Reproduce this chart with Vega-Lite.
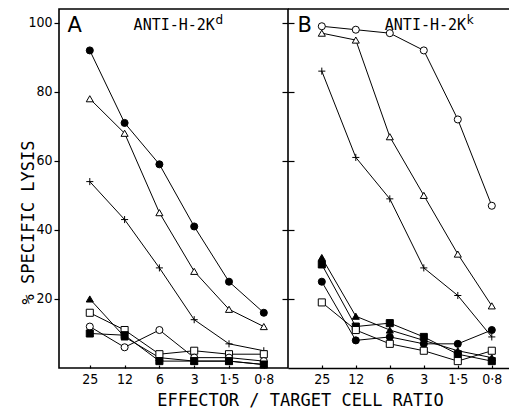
{
  "$schema": "https://vega.github.io/schema/vega-lite/v6.json",
  "padding": {"left": 18, "top": 8, "right": 0, "bottom": 0},
  "background": "white",
  "bounds": "flush",
  "config": {
    "concat": {"spacing": 0},
    "view": {"stroke": null},
    "axis": {"labelFont": "DejaVu Sans Condensed", "labelFontSize": 14, "labelColor": "black", "tickColor": "black", "domainColor": "black", "grid": false, "tickWidth": 1.2}
  },
  "title": {"text": "EFFECTOR / TARGET CELL RATIO", "orient": "bottom", "anchor": "middle", "font": "DejaVu Sans Mono", "fontSize": 17, "fontWeight": "normal", "color": "black", "offset": 6, "dx": 36},
  "data": {"values": [
    {"panel": "A", "series": "filled circle", "marker": "circle", "fill": "filled", "ratio": "25", "lysis": 92},
    {"panel": "A", "series": "filled circle", "marker": "circle", "fill": "filled", "ratio": "12", "lysis": 71},
    {"panel": "A", "series": "filled circle", "marker": "circle", "fill": "filled", "ratio": "6", "lysis": 59},
    {"panel": "A", "series": "filled circle", "marker": "circle", "fill": "filled", "ratio": "3", "lysis": 41},
    {"panel": "A", "series": "filled circle", "marker": "circle", "fill": "filled", "ratio": "1·5", "lysis": 25},
    {"panel": "A", "series": "filled circle", "marker": "circle", "fill": "filled", "ratio": "0·8", "lysis": 16},
    {"panel": "A", "series": "open triangle", "marker": "triangle", "fill": "open", "ratio": "25", "lysis": 78},
    {"panel": "A", "series": "open triangle", "marker": "triangle", "fill": "open", "ratio": "12", "lysis": 68},
    {"panel": "A", "series": "open triangle", "marker": "triangle", "fill": "open", "ratio": "6", "lysis": 45},
    {"panel": "A", "series": "open triangle", "marker": "triangle", "fill": "open", "ratio": "3", "lysis": 28},
    {"panel": "A", "series": "open triangle", "marker": "triangle", "fill": "open", "ratio": "1·5", "lysis": 17},
    {"panel": "A", "series": "open triangle", "marker": "triangle", "fill": "open", "ratio": "0·8", "lysis": 12},
    {"panel": "A", "series": "plus", "marker": "plus", "fill": "open", "ratio": "25", "lysis": 54},
    {"panel": "A", "series": "plus", "marker": "plus", "fill": "open", "ratio": "12", "lysis": 43},
    {"panel": "A", "series": "plus", "marker": "plus", "fill": "open", "ratio": "6", "lysis": 29},
    {"panel": "A", "series": "plus", "marker": "plus", "fill": "open", "ratio": "3", "lysis": 14},
    {"panel": "A", "series": "plus", "marker": "plus", "fill": "open", "ratio": "1·5", "lysis": 7},
    {"panel": "A", "series": "plus", "marker": "plus", "fill": "open", "ratio": "0·8", "lysis": 5},
    {"panel": "A", "series": "filled triangle", "marker": "triangle", "fill": "filled", "ratio": "25", "lysis": 20},
    {"panel": "A", "series": "filled triangle", "marker": "triangle", "fill": "filled", "ratio": "12", "lysis": 9},
    {"panel": "A", "series": "filled triangle", "marker": "triangle", "fill": "filled", "ratio": "6", "lysis": 3},
    {"panel": "A", "series": "filled triangle", "marker": "triangle", "fill": "filled", "ratio": "3", "lysis": 2},
    {"panel": "A", "series": "filled triangle", "marker": "triangle", "fill": "filled", "ratio": "1·5", "lysis": 2},
    {"panel": "A", "series": "filled triangle", "marker": "triangle", "fill": "filled", "ratio": "0·8", "lysis": 1},
    {"panel": "A", "series": "open square", "marker": "square", "fill": "open", "ratio": "25", "lysis": 16},
    {"panel": "A", "series": "open square", "marker": "square", "fill": "open", "ratio": "12", "lysis": 11},
    {"panel": "A", "series": "open square", "marker": "square", "fill": "open", "ratio": "6", "lysis": 4},
    {"panel": "A", "series": "open square", "marker": "square", "fill": "open", "ratio": "3", "lysis": 5},
    {"panel": "A", "series": "open square", "marker": "square", "fill": "open", "ratio": "1·5", "lysis": 4},
    {"panel": "A", "series": "open square", "marker": "square", "fill": "open", "ratio": "0·8", "lysis": 4},
    {"panel": "A", "series": "open circle", "marker": "circle", "fill": "open", "ratio": "25", "lysis": 12},
    {"panel": "A", "series": "open circle", "marker": "circle", "fill": "open", "ratio": "12", "lysis": 6},
    {"panel": "A", "series": "open circle", "marker": "circle", "fill": "open", "ratio": "6", "lysis": 11},
    {"panel": "A", "series": "open circle", "marker": "circle", "fill": "open", "ratio": "3", "lysis": 3},
    {"panel": "A", "series": "open circle", "marker": "circle", "fill": "open", "ratio": "1·5", "lysis": 3},
    {"panel": "A", "series": "open circle", "marker": "circle", "fill": "open", "ratio": "0·8", "lysis": 2},
    {"panel": "A", "series": "filled square", "marker": "square", "fill": "filled", "ratio": "25", "lysis": 10},
    {"panel": "A", "series": "filled square", "marker": "square", "fill": "filled", "ratio": "12", "lysis": 9.5},
    {"panel": "A", "series": "filled square", "marker": "square", "fill": "filled", "ratio": "6", "lysis": 2},
    {"panel": "A", "series": "filled square", "marker": "square", "fill": "filled", "ratio": "3", "lysis": 2},
    {"panel": "A", "series": "filled square", "marker": "square", "fill": "filled", "ratio": "1·5", "lysis": 2},
    {"panel": "A", "series": "filled square", "marker": "square", "fill": "filled", "ratio": "0·8", "lysis": 1},
    {"panel": "B", "series": "open circle", "marker": "circle", "fill": "open", "ratio": "25", "lysis": 99},
    {"panel": "B", "series": "open circle", "marker": "circle", "fill": "open", "ratio": "12", "lysis": 98},
    {"panel": "B", "series": "open circle", "marker": "circle", "fill": "open", "ratio": "6", "lysis": 97},
    {"panel": "B", "series": "open circle", "marker": "circle", "fill": "open", "ratio": "3", "lysis": 92},
    {"panel": "B", "series": "open circle", "marker": "circle", "fill": "open", "ratio": "1·5", "lysis": 72},
    {"panel": "B", "series": "open circle", "marker": "circle", "fill": "open", "ratio": "0·8", "lysis": 47},
    {"panel": "B", "series": "open triangle", "marker": "triangle", "fill": "open", "ratio": "25", "lysis": 97},
    {"panel": "B", "series": "open triangle", "marker": "triangle", "fill": "open", "ratio": "12", "lysis": 95},
    {"panel": "B", "series": "open triangle", "marker": "triangle", "fill": "open", "ratio": "6", "lysis": 67},
    {"panel": "B", "series": "open triangle", "marker": "triangle", "fill": "open", "ratio": "3", "lysis": 50},
    {"panel": "B", "series": "open triangle", "marker": "triangle", "fill": "open", "ratio": "1·5", "lysis": 33},
    {"panel": "B", "series": "open triangle", "marker": "triangle", "fill": "open", "ratio": "0·8", "lysis": 18},
    {"panel": "B", "series": "plus", "marker": "plus", "fill": "open", "ratio": "25", "lysis": 86},
    {"panel": "B", "series": "plus", "marker": "plus", "fill": "open", "ratio": "12", "lysis": 61},
    {"panel": "B", "series": "plus", "marker": "plus", "fill": "open", "ratio": "6", "lysis": 49},
    {"panel": "B", "series": "plus", "marker": "plus", "fill": "open", "ratio": "3", "lysis": 29},
    {"panel": "B", "series": "plus", "marker": "plus", "fill": "open", "ratio": "1·5", "lysis": 21},
    {"panel": "B", "series": "plus", "marker": "plus", "fill": "open", "ratio": "0·8", "lysis": 9},
    {"panel": "B", "series": "filled triangle", "marker": "triangle", "fill": "filled", "ratio": "25", "lysis": 32},
    {"panel": "B", "series": "filled triangle", "marker": "triangle", "fill": "filled", "ratio": "12", "lysis": 15},
    {"panel": "B", "series": "filled triangle", "marker": "triangle", "fill": "filled", "ratio": "6", "lysis": 11},
    {"panel": "B", "series": "filled triangle", "marker": "triangle", "fill": "filled", "ratio": "3", "lysis": 8},
    {"panel": "B", "series": "filled triangle", "marker": "triangle", "fill": "filled", "ratio": "1·5", "lysis": 5},
    {"panel": "B", "series": "filled triangle", "marker": "triangle", "fill": "filled", "ratio": "0·8", "lysis": 3},
    {"panel": "B", "series": "filled square", "marker": "square", "fill": "filled", "ratio": "25", "lysis": 30},
    {"panel": "B", "series": "filled square", "marker": "square", "fill": "filled", "ratio": "12", "lysis": 12},
    {"panel": "B", "series": "filled square", "marker": "square", "fill": "filled", "ratio": "6", "lysis": 13},
    {"panel": "B", "series": "filled square", "marker": "square", "fill": "filled", "ratio": "3", "lysis": 9},
    {"panel": "B", "series": "filled square", "marker": "square", "fill": "filled", "ratio": "1·5", "lysis": 4},
    {"panel": "B", "series": "filled square", "marker": "square", "fill": "filled", "ratio": "0·8", "lysis": 2},
    {"panel": "B", "series": "filled circle", "marker": "circle", "fill": "filled", "ratio": "25", "lysis": 25},
    {"panel": "B", "series": "filled circle", "marker": "circle", "fill": "filled", "ratio": "12", "lysis": 8},
    {"panel": "B", "series": "filled circle", "marker": "circle", "fill": "filled", "ratio": "6", "lysis": 9},
    {"panel": "B", "series": "filled circle", "marker": "circle", "fill": "filled", "ratio": "3", "lysis": 7},
    {"panel": "B", "series": "filled circle", "marker": "circle", "fill": "filled", "ratio": "1·5", "lysis": 7},
    {"panel": "B", "series": "filled circle", "marker": "circle", "fill": "filled", "ratio": "0·8", "lysis": 11},
    {"panel": "B", "series": "open square", "marker": "square", "fill": "open", "ratio": "25", "lysis": 19},
    {"panel": "B", "series": "open square", "marker": "square", "fill": "open", "ratio": "12", "lysis": 11},
    {"panel": "B", "series": "open square", "marker": "square", "fill": "open", "ratio": "6", "lysis": 7},
    {"panel": "B", "series": "open square", "marker": "square", "fill": "open", "ratio": "3", "lysis": 5},
    {"panel": "B", "series": "open square", "marker": "square", "fill": "open", "ratio": "1·5", "lysis": 2},
    {"panel": "B", "series": "open square", "marker": "square", "fill": "open", "ratio": "0·8", "lysis": 5}
  ]},
  "hconcat": [
    {
      "width": 229,
      "height": 359,
      "view": {"stroke": "black", "strokeWidth": 1.6},
      "transform": [{"filter": "datum.panel === 'A'"}],
      "resolve": {"axis": {"y": "independent"}},
      "layer": [
        {
          "mark": {"type": "line", "color": "black", "strokeWidth": 1},
          "encoding": {
            "x": {"field": "ratio", "type": "ordinal", "scale": {"type": "point", "domain": ["25", "12", "6", "3", "1·5", "0·8"], "padding": 0.79, "align": 0.56}, "axis": {"title": null, "labelAngle": 0, "tickSize": -3, "labelPadding": 7, "domain": false}},
            "y": {"field": "lysis", "type": "quantitative", "scale": {"domain": [0, 104], "nice": false}, "axis": {"title": "% SPECIFIC LYSIS", "values": [20, 40, 60, 80, 100], "tickSize": 5, "labelPadding": 2, "domain": false, "titleX": -31, "titleY": 213, "titleAngle": -90, "titleAlign": "center", "titleBaseline": "middle", "titleFont": "DejaVu Sans Mono", "titleFontSize": 17, "titleFontWeight": "normal", "titleColor": "black"}},
            "detail": {"field": "series"}
          }
        },
        {
          "mark": {"type": "point", "stroke": "black", "strokeWidth": 1, "opacity": 1, "size": 50},
          "encoding": {
            "x": {"field": "ratio", "type": "ordinal"},
            "y": {"field": "lysis", "type": "quantitative", "axis": {"orient": "right", "labels": false, "title": null, "values": [20, 40, 60, 80, 100], "tickSize": 6, "domain": false}},
            "shape": {"field": "marker", "scale": {"domain": ["circle", "triangle", "plus", "square"], "range": ["circle", "triangle-up", "M-1,0L1,0M0,-1L0,1", "square"]}, "legend": null},
            "fill": {"field": "fill", "scale": {"domain": ["filled", "open"], "range": ["black", "white"]}, "legend": null}
          }
        },
        {
          "data": {"values": [{"label": "A", "ratio": "25", "lysis": 100}]},
          "mark": {"type": "text", "font": "DejaVu Sans", "fontSize": 21, "align": "center", "baseline": "middle", "dx": -15, "dy": 3, "color": "black"},
          "encoding": {"text": {"field": "label"}, "x": {"field": "ratio", "type": "ordinal"}, "y": {"field": "lysis", "type": "quantitative", "axis": null}}
        },
        {
          "data": {"values": [{"label": "ANTI-H-2K", "ratio": "12", "lysis": 100}]},
          "mark": {"type": "text", "font": "DejaVu Sans Mono", "fontSize": 15, "align": "left", "baseline": "middle", "dx": 9, "dy": 2, "color": "black"},
          "encoding": {"text": {"field": "label"}, "x": {"field": "ratio", "type": "ordinal"}, "y": {"field": "lysis", "type": "quantitative", "axis": null}}
        },
        {
          "data": {"values": [{"label": "d", "ratio": "12", "lysis": 100}]},
          "mark": {"type": "text", "font": "DejaVu Sans", "fontSize": 12, "align": "left", "baseline": "middle", "dx": 91, "dy": -3, "color": "black"},
          "encoding": {"text": {"field": "label"}, "x": {"field": "ratio", "type": "ordinal"}, "y": {"field": "lysis", "type": "quantitative", "axis": null}}
        }
      ]
    },
    {
      "width": 222,
      "height": 359,
      "transform": [{"filter": "datum.panel === 'B'"}],
      "layer": [
        {
          "data": {"values": [{"lysis": 104}]},
          "mark": {"type": "rule", "color": "black", "strokeWidth": 1.6},
          "encoding": {"y": {"field": "lysis", "type": "quantitative"}}
        },
        {
          "mark": {"type": "line", "color": "black", "strokeWidth": 1},
          "encoding": {
            "x": {"field": "ratio", "type": "ordinal", "scale": {"type": "point", "domain": ["25", "12", "6", "3", "1·5", "0·8"], "padding": 0.765, "align": 0.65}, "axis": {"title": null, "labelAngle": 0, "tickSize": -3, "labelPadding": 7, "domain": true, "domainWidth": 1.6}},
            "y": {"field": "lysis", "type": "quantitative", "scale": {"domain": [0, 104], "nice": false}, "axis": {"title": null, "labels": false, "values": [20, 40, 60, 80, 100], "tickSize": 6, "domain": false}},
            "detail": {"field": "series"}
          }
        },
        {
          "mark": {"type": "point", "stroke": "black", "strokeWidth": 1, "opacity": 1, "size": 50},
          "encoding": {
            "x": {"field": "ratio", "type": "ordinal"},
            "y": {"field": "lysis", "type": "quantitative"},
            "shape": {"field": "marker", "scale": {"domain": ["circle", "triangle", "plus", "square"], "range": ["circle", "triangle-up", "M-1,0L1,0M0,-1L0,1", "square"]}, "legend": null},
            "fill": {"field": "fill", "scale": {"domain": ["filled", "open"], "range": ["black", "white"]}, "legend": null}
          }
        },
        {
          "data": {"values": [{"label": "B", "ratio": "25", "lysis": 100}]},
          "mark": {"type": "text", "font": "DejaVu Sans", "fontSize": 21, "align": "center", "baseline": "middle", "dx": -17, "dy": 3, "color": "black"},
          "encoding": {"text": {"field": "label"}, "x": {"field": "ratio", "type": "ordinal"}, "y": {"field": "lysis", "type": "quantitative"}}
        },
        {
          "data": {"values": [{"label": "ANTI-H-2K", "ratio": "6", "lysis": 100}]},
          "mark": {"type": "text", "font": "DejaVu Sans Mono", "fontSize": 15, "align": "left", "baseline": "middle", "dx": -5, "dy": 2, "color": "black"},
          "encoding": {"text": {"field": "label"}, "x": {"field": "ratio", "type": "ordinal"}, "y": {"field": "lysis", "type": "quantitative"}}
        },
        {
          "data": {"values": [{"label": "k", "ratio": "6", "lysis": 100}]},
          "mark": {"type": "text", "font": "DejaVu Sans", "fontSize": 12, "align": "left", "baseline": "middle", "dx": 77, "dy": -3, "color": "black"},
          "encoding": {"text": {"field": "label"}, "x": {"field": "ratio", "type": "ordinal"}, "y": {"field": "lysis", "type": "quantitative"}}
        }
      ]
    }
  ]
}
